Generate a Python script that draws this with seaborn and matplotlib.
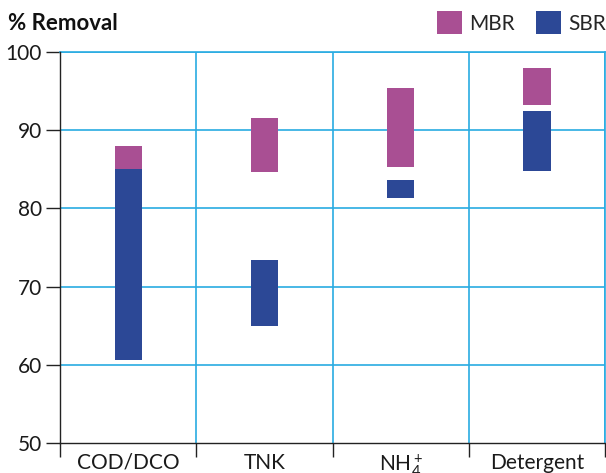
import matplotlib
matplotlib.use("Agg")
import matplotlib.pyplot as plt
from matplotlib.patches import Patch
import seaborn as sns
import pandas as pd

categories = ["COD/DCO", "TNK", "NH4+", "Detergent"]
tick_labels = ["COD/DCO", "TNK", r"NH$_4^+$", "Detergent"]
mbr_low = [85.0, 84.7, 85.3, 93.2]
mbr_high = [88.0, 91.6, 95.4, 98.0]
sbr_low = [60.6, 64.9, 81.3, 84.8]
sbr_high = [85.0, 73.4, 83.6, 92.5]
yticks = [50, 60, 70, 80, 90, 100]

MBR_C = "#A94F93"
SBR_C = "#2C4896"
GRID_C = "#29ABE2"

sns.set_theme(style="white")
plt.rcParams["font.family"] = ["Lato", "DejaVu Sans"]
plt.rcParams["mathtext.fontset"] = "custom"
plt.rcParams["mathtext.rm"] = "Lato"
plt.rcParams["mathtext.it"] = "Lato"
plt.rcParams["mathtext.bf"] = "Lato:bold"

fig = plt.figure(figsize=(6.06, 4.73), dpi=100)
ax = fig.add_axes([60/606, 1-443/473, 545/606, 391/473])

mbr = pd.DataFrame({"cat": categories, "low": mbr_low,
                    "h": [h - l for h, l in zip(mbr_high, mbr_low)]})
sbr = pd.DataFrame({"cat": categories, "low": sbr_low,
                    "h": [h - l for h, l in zip(sbr_high, sbr_low)]})

sns.barplot(data=sbr, x="cat", y="h", order=categories, bottom=sbr["low"].values,
            color=SBR_C, saturation=1, width=0.2, linewidth=0, ax=ax, zorder=3)
sns.barplot(data=mbr, x="cat", y="h", order=categories, bottom=mbr["low"].values,
            color=MBR_C, saturation=1, width=0.2, linewidth=0, ax=ax, zorder=3)

ax.set_xlim(-0.5, 3.5)
ax.set_ylim(50, 100)
ax.set_xlabel("")
ax.set_ylabel("")
ax.set_yticks(yticks)
ax.set_yticklabels([str(t) for t in yticks], fontsize=15, color="#1a1a1a")
ax.set_xticks(range(len(categories)))
ax.set_xticklabels(tick_labels, fontsize=15, color="#1a1a1a")
ax.set_xticks([i - 0.5 for i in range(len(categories) + 1)], minor=True)
ax.tick_params(axis="x", which="major", length=0, pad=7)
ax.tick_params(axis="x", which="minor", length=10, width=1, color="#222222", direction="out", bottom=True)
ax.tick_params(axis="y", which="major", length=10, width=1, color="#222222", direction="out", left=True, pad=3)

ax.set_axisbelow(True)
ax.grid(False)
ax.grid(True, axis="y", which="major", color=GRID_C, linewidth=1.2)
ax.grid(True, axis="x", which="minor", color=GRID_C, linewidth=1.2)
ax.yaxis.get_gridlines()[0].set_visible(False)

for s in ["top", "right"]:
    ax.spines[s].set_visible(True)
    ax.spines[s].set_color(GRID_C)
    ax.spines[s].set_linewidth(1.2)
for s in ["left", "bottom"]:
    ax.spines[s].set_color("#222222")
    ax.spines[s].set_linewidth(1)
    ax.spines[s].set_zorder(5)

fig.text(8/606, 1-23/473, "% Removal", fontsize=16, fontweight="bold",
         va="center", ha="left", color="#111111")

handles = [Patch(facecolor=MBR_C, edgecolor="none", label="MBR"),
           Patch(facecolor=SBR_C, edgecolor="none", label="SBR")]
fig.legend(handles=handles, loc="upper right", bbox_to_anchor=(606/606, 1-11/473),
           ncol=2, frameon=False, fontsize=15, handlelength=1.2, handleheight=1.35,
           handletextpad=0.35, columnspacing=1.0, borderpad=0, borderaxespad=0)

fig.savefig("out.png", dpi=100)
